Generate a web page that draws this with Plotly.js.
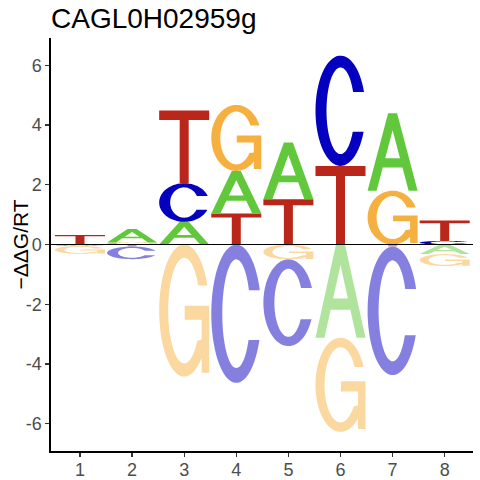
<!DOCTYPE html>
<html><head><meta charset="utf-8">
<script src="https://cdn.plot.ly/plotly-3.0.1.min.js"></script>
<style>html,body{margin:0;padding:0;background:#fff}#plot{width:480px;height:480px}</style>
</head><body><div id="plot"></div>
<script>
// ---- data ----
const positions = [1, 2, 3, 4, 5, 6, 7, 8];
const tickLabels = ['1', '2', '3', '4', '5', '6', '7', '8'];
const valA = [-0.02, 0.45, 0.76, 1.42, 1.90, -3.12, 2.59, -0.32];
const valC = [-0.03, -0.42, 1.29, -4.63, -2.90, 3.69, -4.30, 0.12];
const valG = [-0.26, 0.07, -4.42, 2.21, -0.50, -3.15, 1.80, -0.40];
const valT = [0.32, -0.07, 2.43, 1.04, 1.51, 2.63, -0.07, 0.68];
const yTickVals = [-6, -4, -2, 0, 2, 4, 6];
const yTickText = ['-6', '-4', '-2', '0', '2', '4', '6'];
const titleText = 'CAGL0H02959g';
const yLabel = '\u2212\u0394\u0394G/RT';

// ---- styles ----
const COL = {A: '#61C83B', C: '#0500C0', G: '#F5B040', T: '#BA2619'};
const LIGHT = {A: '#B0E49D', C: '#8580E0', G: '#FAD8A0', T: '#DC928C'};
const HW = 0.48; // half letter width in x units
const FONT = 'Liberation Sans, Arial, sans-serif';

// ---- glyph outlines in a unit box ----
function arc(cx, cy, rx, ry, a0, a1, n) {
  const pts = [];
  for (let i = 0; i <= n; i++) {
    const a = (a0 + (a1 - a0) * i / n) * Math.PI / 180;
    pts.push([cx + rx * Math.cos(a), cy + ry * Math.sin(a)]);
  }
  return pts;
}
const D = r => r * 180 / Math.PI;
const GLYPHS = {
  T: [[[0, 1], [1, 1], [1, 0.872], [0.59, 0.872], [0.59, 0], [0.41, 0], [0.41, 0.872], [0, 0.872]]],
  A: [[[0, 0], [0.41, 1], [0.59, 1], [1, 0], [0.82, 0], [0.697, 0.30], [0.303, 0.30], [0.18, 0]],
      [[0.352, 0.42], [0.648, 0.42], [0.5, 0.78]]],
  C: [arc(0.5, 0.5, 0.5, 0.5, D(Math.asin(0.34)), 360 - D(Math.asin(0.38)), 60)
      .concat(arc(0.5, 0.5, 0.28, 0.393, -D(Math.asin(0.19 / 0.393)), -360 + D(Math.asin(0.17 / 0.393)), 60))],
  G: [arc(0.5, 0.5, 0.5, 0.5, D(Math.asin(0.38)), 360 - 45.57, 60)
      .concat([[0.85, 0.03], [1, 0.03], [1, 0.537], [0.51, 0.537], [0.51, 0.43], [0.85, 0.43], [0.85, 0.28]])
      .concat(arc(0.5, 0.5, 0.32, 0.40, -35, -360 + D(Math.asin(0.19 / 0.40)), 60))]
};

function letterPath(ch, xc, y0, h) {
  return GLYPHS[ch].map(poly => poly.map((p, i) =>
    (i ? 'L' : 'M') + (xc - HW + p[0] * 2 * HW).toFixed(4) + ',' + (y0 + p[1] * h).toFixed(4)
  ).join('') + 'Z').join('');
}

const letters = ['A', 'C', 'G', 'T'];
const vals = {A: valA, C: valC, G: valG, T: valT};
const shapes = [];
positions.forEach((pos, i) => {
  const items = letters.map(l => ({l: l, v: vals[l][i]}));
  let y = 0;
  items.filter(d => d.v > 0).sort((a, b) => a.v - b.v).forEach(d => {
    shapes.push({type: 'path', xref: 'x', yref: 'y', path: letterPath(d.l, pos, y, d.v),
      fillcolor: COL[d.l], line: {width: 0}, layer: 'above'});
    y += d.v;
  });
  y = 0;
  items.filter(d => d.v < 0).sort((a, b) => b.v - a.v).forEach(d => {
    y += d.v;
    shapes.push({type: 'path', xref: 'x', yref: 'y', path: letterPath(d.l, pos, y, -d.v),
      fillcolor: LIGHT[d.l], line: {width: 0}, layer: 'above'});
  });
});
shapes.push({type: 'line', xref: 'paper', x0: 0, x1: 1, yref: 'y', y0: 0, y1: 0,
  line: {color: 'black', width: 1}, layer: 'above'});

const trace = {x: positions, y: positions.map(() => 0), type: 'scatter', mode: 'markers',
  marker: {opacity: 0}, hoverinfo: 'skip', showlegend: false};

const axisCommon = {
  showgrid: false, zeroline: false, showline: true, linecolor: 'black', linewidth: 1.6,
  ticks: 'outside', ticklen: 4, tickwidth: 1.3, tickcolor: '#333333',
  tickfont: {family: FONT, size: 18, color: '#4D4D4D'}, fixedrange: true
};

const layout = {
  width: 480, height: 480,
  margin: {l: 51, r: 7, t: 38, b: 29, pad: 0},
  paper_bgcolor: 'white', plot_bgcolor: 'white',
  showlegend: false,
  title: {text: titleText, font: {family: FONT, size: 28, color: 'black'},
    xref: 'paper', x: 0, xanchor: 'left', yref: 'container', y: 1 - 18 / 480, yanchor: 'middle'},
  xaxis: Object.assign({}, axisCommon, {range: [0.444, 8.543], tickmode: 'array',
    tickvals: positions, ticktext: tickLabels, ticklabelstandoff: -2}),
  yaxis: Object.assign({}, axisCommon, {range: [-6.91, 6.91], tickmode: 'array',
    tickvals: yTickVals, ticktext: yTickText}),
  annotations: [{text: yLabel, xref: 'paper', yref: 'paper', x: (20 - 51) / 422, y: 0.5,
    xanchor: 'center', yanchor: 'middle', textangle: -90, showarrow: false,
    font: {family: FONT, size: 21, color: 'black'}}],
  shapes: shapes
};

Plotly.newPlot('plot', [trace], layout, {displayModeBar: false, staticPlot: true});
</script>
</body></html>
